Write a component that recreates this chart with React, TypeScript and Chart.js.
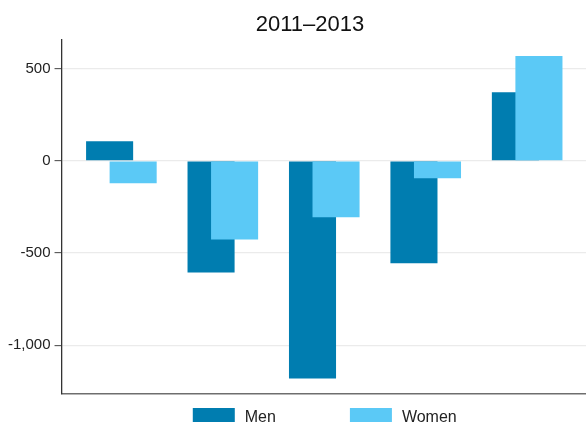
import React, { useEffect, useRef } from "react";
import { Chart, registerables } from "chart.js";

Chart.register(...registerables);

const title = "2011–2013";
const categories = ["Group 1", "Group 2", "Group 3", "Group 4", "Group 5"];
const menValues = [107, -605, -1181, -556, 373];
const womenValues = [-121, -426, -306, -94, 569];
const seriesLabels = ["Men", "Women"];
const seriesColors = ["#007DB0", "#5BC9F6"];
const yTickValues = [-1000, -500, 0, 500];

const FONT = "'Liberation Sans', Arial, Helvetica, sans-serif";

// Draw datasets in index order so that later series (Women) lie on top.
const drawOrderPlugin = {
  id: "drawOrder",
  beforeDatasetsDraw(chart: any) {
    const metas = chart.getSortedVisibleDatasetMetas();
    const { ctx, chartArea } = chart;
    ctx.save();
    ctx.beginPath();
    ctx.rect(chartArea.left, chartArea.top, chartArea.right - chartArea.left, chartArea.bottom - chartArea.top);
    ctx.clip();
    metas.forEach((m: any) => m.controller.draw());
    ctx.restore();
    return false;
  },
};

const titlePlugin = {
  id: "customTitle",
  afterDraw(chart: any) {
    const ctx = chart.ctx;
    ctx.save();
    ctx.font = `22px ${FONT}`;
    ctx.fillStyle = "#111";
    ctx.textAlign = "center";
    ctx.textBaseline = "alphabetic";
    ctx.fillText(title, 310, 31);
    ctx.restore();
  },
};

const legendPlugin = {
  id: "customLegend",
  afterDraw(chart: any) {
    const ctx = chart.ctx;
    const area = chart.chartArea;
    const boxW = 42;
    const boxH = 14;
    const gap = 10;
    const itemGap = 74;
    ctx.save();
    ctx.font = `16px ${FONT}`;
    const items = chart.data.datasets.map((d: any) => ({
      text: d.label,
      color: d.backgroundColor,
      w: boxW + gap + ctx.measureText(d.label).width,
    }));
    const total = items.reduce((s: number, it: any) => s + it.w, 0) + itemGap * (items.length - 1);
    let x = (area.left + area.right) / 2 + 1 - total / 2;
    const boxTop = 408;
    items.forEach((it: any) => {
      ctx.fillStyle = it.color;
      ctx.fillRect(x, boxTop, boxW, boxH);
      ctx.fillStyle = "#222";
      ctx.textAlign = "left";
      ctx.textBaseline = "alphabetic";
      ctx.fillText(it.text, x + boxW + gap, 421.5);
      x += it.w + itemGap;
    });
    ctx.restore();
  },
};

export default function App() {
  const canvasRef = useRef<HTMLCanvasElement | null>(null);

  useEffect(() => {
    if (!canvasRef.current) return;
    Chart.defaults.font.family = FONT;
    const chart = new Chart(canvasRef.current, {
      type: "bar",
      data: {
        datasets: [
          {
            label: seriesLabels[0],
            data: categories.map((_, i) => ({ x: i, y: menValues[i] })),
            backgroundColor: seriesColors[0],
            borderWidth: 0,
            categoryPercentage: 0.464,
            barPercentage: 2,
          },
          {
            label: seriesLabels[1],
            data: categories.map((_, i) => ({ x: i, y: womenValues[i] })),
            backgroundColor: seriesColors[1],
            borderWidth: 0,
            categoryPercentage: 0.464,
            barPercentage: 2,
          },
        ],
      },
      options: {
        animation: false,
        responsive: true,
        maintainAspectRatio: false,
        layout: { padding: { top: 40, bottom: 31, left: 4, right: 0 } },
        plugins: {
          legend: { display: false },
          title: { display: false },
          tooltip: {
            callbacks: {
              title: (items: any[]) => categories[items[0].parsed.x] ?? "",
            },
          },
        },
        scales: {
          x: {
            type: "linear",
            offset: false,
            min: -0.59,
            max: 4.58,
            afterBuildTicks: (scale: any) => {
              scale.ticks = categories.map((_, i) => ({ value: i }));
            },
            grid: { display: false, drawTicks: false, offset: false },
            ticks: { display: false },
            border: { display: true, color: "#6e6e6e", width: 1.5 },
          },
          y: {
            min: -1265,
            max: 656,
            afterBuildTicks: (scale: any) => {
              scale.ticks = yTickValues.map((v) => ({ value: v }));
            },
            grid: {
              color: "#ebebeb",
              lineWidth: 1.3,
              drawTicks: true,
              tickLength: 7,
              tickColor: "#444",
              tickWidth: 1,
            },
            border: { display: true, color: "#333", width: 1.3 },
            ticks: {
              padding: 4,
              color: "#222",
              font: { size: 15, family: FONT },
              callback: (v: any) => Number(v).toLocaleString("en-US"),
            },
          },
        },
      },
      plugins: [drawOrderPlugin, titlePlugin, legendPlugin],
    } as any);
    return () => chart.destroy();
  }, []);

  return (
    <div style={{ position: "fixed", left: 0, top: 0, width: 586, height: 425, background: "#fff" }}>
      <canvas ref={canvasRef} />
    </div>
  );
}
